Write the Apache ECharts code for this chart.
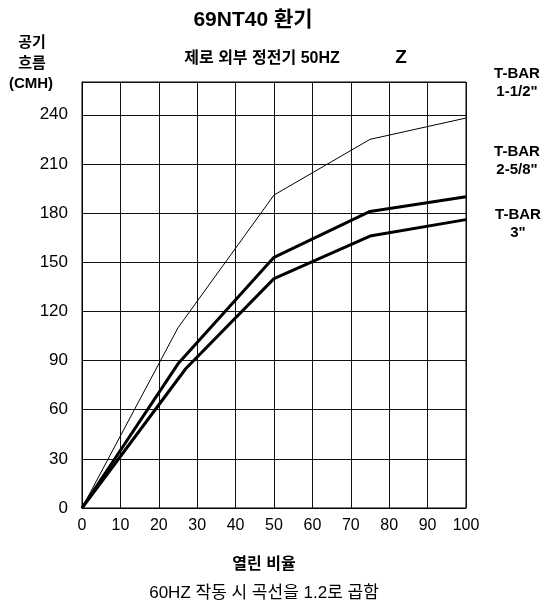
<!DOCTYPE html>
<html><head><meta charset="utf-8">
<script src="https://cdn.jsdelivr.net/npm/echarts@6/dist/echarts.min.js"></script>
<style>html,body{margin:0;padding:0;background:#fff}#c{width:544px;height:603px}</style>
</head><body><div id="c"></div>
<script>
const xTicks = [0,10,20,30,40,50,60,70,80,90,100];
const yTicks = [0,30,60,90,120,150,180,210,240];
const seriesNames = ['T-BAR 1-1/2"', 'T-BAR 2-5/8"', 'T-BAR 3"'];
const tbar112 = [[0,0],[25,110],[50,191],[75,225],[100,238]];
const tbar258 = [[0,0],[25,88],[50,153],[75,181],[100,190]];
const tbar3   = [[0,0],[27,85],[50,140],[75,166],[100,176]];

const fam = '"Liberation Sans", Arial, "Noto Sans CJK KR", sans-serif';
const chart = echarts.init(document.getElementById('c'));
const t = (text, x, y, size, bold) => ({
  type: 'text', x, y, silent: true,
  style: {text, fill: '#000', align: 'center', verticalAlign: 'middle',
          font: (bold ? 'bold ' : '') + size + 'px ' + fam}
});
chart.setOption({
  animation: false,
  backgroundColor: '#fff',
  graphic: [
    t('69NT40 환기', 253, 20, 21, true),
    t('공기', 32, 43, 15, true),
    t('흐름', 32, 64, 15, true),
    t('(CMH)', 31, 84, 15, true),
    t('제로 외부 정전기 50HZ', 262, 59, 16, true),
    t('Z', 401, 58, 19, true),
    t('T-BAR', 517, 74, 15, true),
    t('1-1/2"', 517, 92, 15, true),
    t('T-BAR', 517, 152, 15, true),
    t('2-5/8"', 517, 170, 15, true),
    t('T-BAR', 518, 215, 15, true),
    t('3"', 518, 233, 15, true),
    t('열린 비율', 264, 565, 16, true),
    t('60HZ 작동 시 곡선을 1.2로 곱함', 264, 593, 17, false)
  ],
  grid: {left: 82, right: 78, top: 82, bottom: 95, show: true, borderColor: '#000', borderWidth: 1},
  xAxis: {
    type: 'value', min: xTicks[0], max: xTicks[xTicks.length-1], interval: 10,
    axisLine: {show: true, lineStyle: {color: '#000', width: 1}},
    axisTick: {show: false},
    axisLabel: {color: '#000', fontFamily: fam, fontSize: 16, margin: 10},
    splitLine: {show: true, lineStyle: {color: '#111', width: 1}}
  },
  yAxis: {
    type: 'value', min: yTicks[0], max: 260, interval: 30,
    axisLine: {show: true, lineStyle: {color: '#000', width: 1}},
    axisTick: {show: false},
    axisLabel: {color: '#000', fontFamily: fam, fontSize: 17, margin: 14, showMaxLabel: false},
    splitLine: {show: true, lineStyle: {color: '#111', width: 1}}
  },
  series: [
    {name: seriesNames[0], type: 'line', data: tbar112, symbol: 'none', lineStyle: {color: '#000', width: 1}},
    {name: seriesNames[1], type: 'line', data: tbar258, symbol: 'none', lineStyle: {color: '#000', width: 3}},
    {name: seriesNames[2], type: 'line', data: tbar3, symbol: 'none', lineStyle: {color: '#000', width: 3}}
  ]
});
</script></body></html>
